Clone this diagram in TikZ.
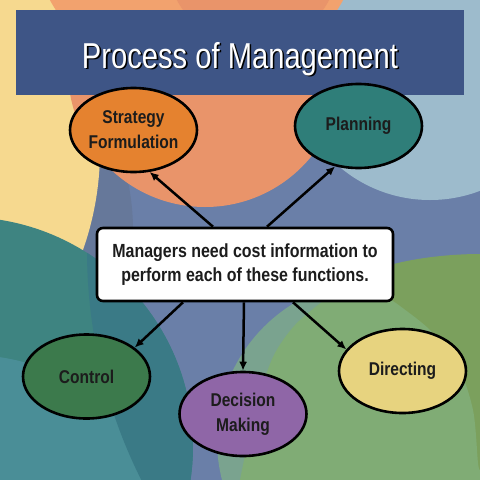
\documentclass[tikz,border=0pt]{standalone}
\usepackage{fontspec}
\setmainfont{Liberation Sans}
\newfontfamily\titlefont{Liberation Sans}[FakeStretch=0.81]
\newfontfamily\nodefont{Liberation Sans Bold}[FakeStretch=0.84]
\usetikzlibrary{shapes.geometric,arrows.meta}
\definecolor{slate}{HTML}{6A7FA8}
\definecolor{yellowbg}{HTML}{F6D98F}
\definecolor{orangeM}{HTML}{E9946A}
\definecolor{orangeL}{HTML}{F2A26E}
\definecolor{lightblue}{HTML}{9DBBCC}
\definecolor{greyblue}{HTML}{66789A}
\definecolor{tealA}{HTML}{3E8481}
\definecolor{tealL}{HTML}{4A8E97}
\definecolor{tealBand}{HTML}{3A7A86}
\definecolor{greygreen}{HTML}{7AA38F}
\definecolor{greenL}{HTML}{80AC75}
\definecolor{greenD}{HTML}{7BA05D}
\definecolor{titlebar}{HTML}{3E5586}
\definecolor{strategyfill}{HTML}{E5822F}
\definecolor{planningfill}{HTML}{2F7E79}
\definecolor{controlfill}{HTML}{3C7A4C}
\definecolor{decisionfill}{HTML}{8F66A7}
\definecolor{directingfill}{HTML}{E7D37F}
\definecolor{txtdark}{HTML}{1C1C1C}
\begin{document}
\begin{tikzpicture}[x=1pt,y=-1pt,
  bub/.style={ellipse, draw=black, line width=2.6pt, minimum width=127pt, minimum height=84pt,
    inner sep=0pt, align=center, font=\nodefont\fontsize{18.5}{25}\selectfont, text=txtdark},
  msgbox/.style={draw=black, line width=2.6pt, fill=white, rounded corners=6pt,
    minimum width=296pt, minimum height=73pt, inner sep=0pt, align=center,
    font=\nodefont\fontsize{19}{24.3}\selectfont, text=txtdark},
  titletext/.style={anchor=base, font=\titlefont\fontsize{36}{40}\selectfont},
  arr/.style={line width=2.5pt, -{Latex[length=9pt,width=8pt]}},
]
\useasboundingbox (0,0) rectangle (480,480);
\begin{scope}
  \clip (0,0) rectangle (480,480);
  \fill[slate] (0,0) rectangle (480,480);
  \fill[lightblue] (430,60) circle[radius=140];
  \fill[greyblue] (-100,230) circle[radius=233];
  \fill[yellowbg] (-200,150) circle[radius=300];
  \fill[orangeM] (205,70) circle[radius=137];
  \fill[orangeL] (196.5,-80) circle[radius=167];
  \fill[orangeM] (253,-40) circle[radius=86];
  \fill[tealA] (-36,446) circle[radius=229];
  \fill[tealL] (-30,560) circle[radius=205];
  \begin{scope}
    \clip (-36,446) circle[radius=229];
    \fill[tealBand] (600,250) circle[radius=513];
  \end{scope}
  \fill[greygreen] (377,440) circle[radius=160];
  \fill[greenD] (380,300) -- (380,268) .. controls (410,258) and (450,254) .. (480,254) -- (480,480) -- (380,480) -- cycle;
  \fill[greenL] (340,296) -- plot[smooth] coordinates {(323,301) (295,325) (273,357) (255,410) (240,480)}
    -- (480,480) -- plot[smooth] coordinates {(480,470) (478,463) (473,410) (457,363) (430,330) (400,306) (385,296)} -- cycle;
\end{scope}
% title bar
\fill[titlebar] (16,10) rectangle (464,95);
\node[titletext, text=black] (titleshadow) at (241.6,69.6) {Process of Management};
\node[titletext, text=white] (title) at (240,68) {Process of Management};
% central box
\node[msgbox] (box) at (245,264.5) {Managers need cost information to\\perform each of these functions.};
% ellipses
\node[bub, fill=strategyfill] (sf) at (133.5,130) {Strategy\\Formulation};
\node[bub, fill=planningfill] (pl) at (358.5,126) {Planning};
\node[bub, fill=controlfill] (co) at (86.5,376.5) {Control};
\node[bub, fill=decisionfill] (dm) at (243,414) {Decision\\Making};
\node[bub, fill=directingfill] (di) at (402.5,371) {Directing};
% arrows
\draw[arr] ([xshift=-32pt]box.north) -- (sf.-69);
\draw[arr] ([xshift=22pt]box.north) -- (pl.-120);
\draw[arr] ([xshift=-62pt]box.south) -- (co.31);
\draw[arr] ([xshift=-1pt]box.south) -- (dm.90);
\draw[arr] ([xshift=48pt]box.south) -- (di.159);
\end{tikzpicture}
\end{document}
